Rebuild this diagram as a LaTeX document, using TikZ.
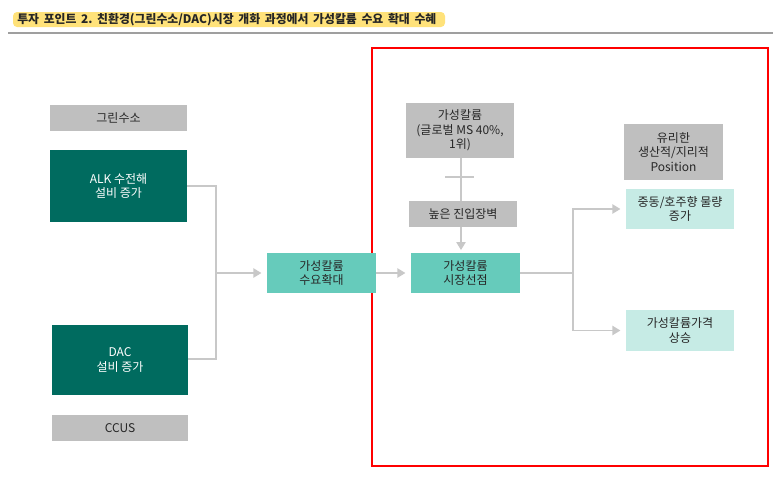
\documentclass[tikz,border=0pt]{standalone}
\usepackage{fontspec}
\setmainfont{Noto Sans CJK KR}
\usetikzlibrary{arrows.meta}
\definecolor{dteal}{HTML}{006B5F}
\definecolor{mteal}{HTML}{66CBBB}
\definecolor{lteal}{HTML}{C6EBE5}
\definecolor{gbox}{HTML}{BFBFBF}
\definecolor{conn}{HTML}{C8C8C8}
\definecolor{txt}{HTML}{262626}
\definecolor{hl}{HTML}{FFE27A}
\tikzset{
  base/.style={inner sep=0pt, align=center, font=\fontsize{9pt}{11pt}\selectfont, text=txt},
  graybox/.style={base, fill=gbox},
  darkbox/.style={base, fill=dteal, text=white},
  midbox/.style={base, fill=mteal},
  lightbox/.style={base, fill=lteal},
  link/.style={draw=conn, line width=1pt},
  arr/.style={link, -{Triangle[length=6pt,width=7pt]}, shorten >=4pt},
}
\begin{document}
\begin{tikzpicture}[x=0.75pt,y=-0.75pt]
\useasboundingbox (0,0) rectangle (773,500);
% title
\fill[hl, rounded corners=3pt] (13,12) rectangle (445,27);
\node[inner sep=0pt, font=\fontsize{8.9pt}{11pt}\selectfont\bfseries, text=txt, anchor=west] (title) at (17,19.5) {투자\hspace{3.5pt}포인트\hspace{3.5pt}2.\hspace{3.5pt}친환경(그린수소/DAC)시장\hspace{3.5pt}개화\hspace{3.5pt}과정에서\hspace{3.5pt}가성칼륨\hspace{3.5pt}수요\hspace{3.5pt}확대\hspace{3.5pt}수혜};
\coordinate (ruleL) at (8,33);
\coordinate (ruleR) at (773,33);
\draw[draw=gray!75, line width=1.2pt] (ruleL) -- (ruleR);
% red frame
\node[draw=red, line width=1.6pt, inner sep=0pt, minimum width=396*0.75pt, minimum height=418*0.75pt] (frame) at (570,257) {};
% left boxes
\node[graybox, minimum width=137*0.75pt, minimum height=26*0.75pt] (green) at (118.5,118) {그린수소};
\node[darkbox, minimum width=137*0.75pt, minimum height=72*0.75pt] (alk) at (118.5,186) {ALK 수전해\\설비 증가};
\node[darkbox, minimum width=136*0.75pt, minimum height=70*0.75pt] (dac) at (120,360) {DAC\\설비 증가};
\node[graybox, minimum width=136*0.75pt, minimum height=26*0.75pt] (ccus) at (120,428) {CCUS};
\node[midbox, minimum width=109*0.75pt, minimum height=40*0.75pt] (demand) at (321.5,273) {가성칼륨\\수요확대};
% right part
\node[graybox, minimum width=108*0.75pt, minimum height=55*0.75pt] (kali) at (460,130.5) {가성칼륨\\(글로벌 MS 40\%,\\1위)};
\node[graybox, minimum width=108*0.75pt, minimum height=26*0.75pt] (barrier) at (463,214) {높은 진입장벽};
\node[midbox, minimum width=109*0.75pt, minimum height=40*0.75pt] (lead) at (465.5,273) {가성칼륨\\시장선점};
\node[graybox, minimum width=99*0.75pt, minimum height=56*0.75pt] (adv) at (673.5,152) {유리한\\생산적/지리적\\Position};
\node[lightbox, minimum width=108*0.75pt, minimum height=40*0.75pt] (me) at (680,209) {중동/호주향 물량\\증가};
\node[lightbox, minimum width=108*0.75pt, minimum height=41*0.75pt] (price) at (680,330.5) {가성칼륨가격\\상승};
% junctions
\coordinate (j1) at (216,273);
\coordinate (j2) at (573,273);
\coordinate (crossL) at (445,177);
\coordinate (crossR) at (474,177);
% connectors
\draw[link] (alk.east |- 0,186) -| (j1);
\draw[link] (dac.east |- 0,359) -| (j1);
\draw[arr] (j1) -- (demand.west);
\draw[arr] (demand.east) -- (lead.west);
\draw[link] (kali.south -| 461,0) -- (barrier.north -| 461,0);
\draw[link] (crossL) -- (crossR);
\draw[arr, shorten >=2pt] (barrier.south -| 461,0) -- (lead.north -| 461,0);
\draw[link] (lead.east) -- (j2);
\draw[arr] (j2) |- (me.west);
\draw[arr] (j2) |- (price.west);
\end{tikzpicture}
\end{document}
